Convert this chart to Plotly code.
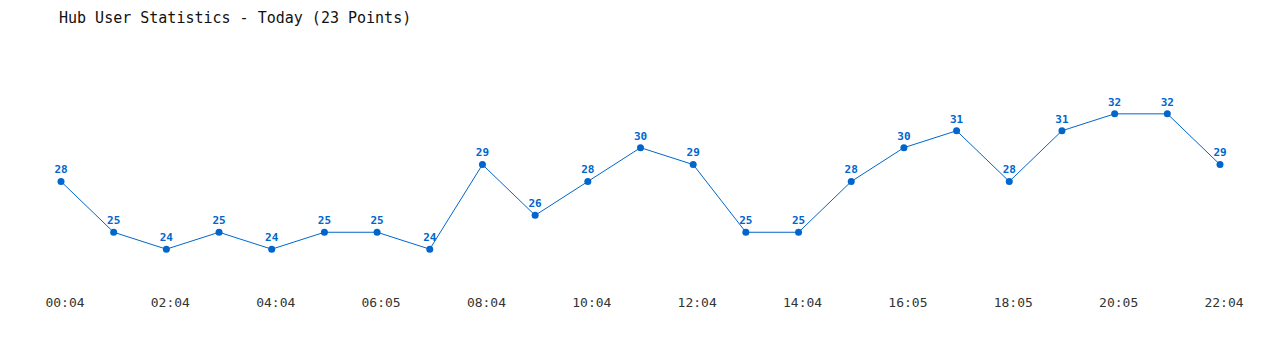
import plotly.graph_objects as go

times = ["00:04", "01:04", "02:04", "03:04", "04:04", "05:04", "06:05", "07:04",
         "08:04", "09:04", "10:04", "11:04", "12:04", "13:04", "14:04", "15:04",
         "16:05", "17:05", "18:05", "19:05", "20:05", "21:05", "22:04"]
users = [28, 25, 24, 25, 24, 25, 25, 24, 29, 26, 28, 30, 29, 25, 25, 28,
         30, 31, 28, 31, 32, 32, 29]
tick_labels = times[::2]

color = "#0066cc"
mono = "DejaVu Sans Mono"

fig = go.Figure(go.Scatter(
    x=times, y=users, mode="lines+markers+text",
    line=dict(color=color, width=1),
    marker=dict(color=color, size=7),
    text=[str(v) for v in users], textposition="top center",
    textfont=dict(family=mono, size=11, color=color, weight="bold"),
    cliponaxis=False, hoverinfo="x+y",
))

fig.update_layout(
    width=1280, height=350,
    margin=dict(l=61, r=60, t=80, b=67),
    paper_bgcolor="white", plot_bgcolor="white",
    showlegend=False,
    title=dict(text="Hub User Statistics - Today (23 Points)",
               x=59 / 1280, xanchor="left", y=1 - 18 / 350, yanchor="middle",
               font=dict(family=mono, size=15, color="#111111")),
    xaxis=dict(type="category", range=[0, 22], showgrid=False, zeroline=False,
               showline=False, tickvals=tick_labels, ticktext=tick_labels,
               ticks="outside", ticklen=7, tickcolor="rgba(0,0,0,0)",
               ticklabelshift=4,
               tickfont=dict(family=mono, size=13, color="#333333")),
    yaxis=dict(range=[22, 34], showgrid=False, zeroline=False, showline=False,
               showticklabels=False),
)

fig.write_html("out.html")
